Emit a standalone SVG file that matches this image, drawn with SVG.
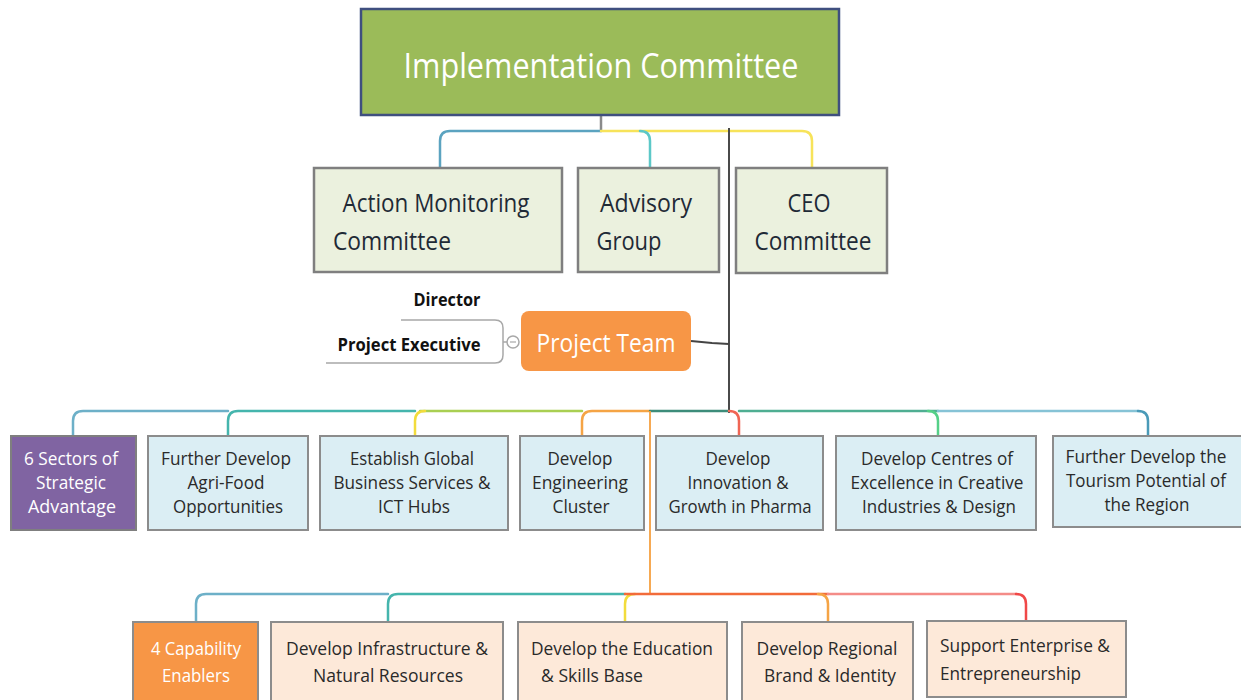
<svg xmlns="http://www.w3.org/2000/svg" width="1241" height="700" viewBox="0 0 1241 700">
  <style>
    text { font-family: "Open Sans", "Liberation Sans", sans-serif; text-anchor: middle; }
    .c { fill: none; stroke-width: 2.5; stroke-linecap: round; }
    .l1 { font-size: 26px; fill: #1f2a36; }
    .l2 { font-size: 17.5px; fill: #2a2a2a; }
    .l3 { font-size: 19px; fill: #2a2a2a; }
    .w { fill: #ffffff; }
    .box2 { fill: #ebf1de; stroke: #7f7f7f; stroke-width: 2.5; }
    .box3 { fill: #dbeef4; stroke: #8c8c8c; stroke-width: 2; }
    .box4 { fill: #fde9d9; stroke: #8c8c8c; stroke-width: 2; }
  </style>

  <!-- connectors -->
  <g id="connectors">
    <path class="c" d="M601,115 V131" stroke="#8a8a8a" stroke-width="2"/>
    <path class="c" d="M601,131 H450 Q440,131 440,141 V168" stroke="#5ba3c0"/>
    <path class="c" d="M601,131 H802 Q812,131 812,141 V168" stroke="#f7e35a"/>
    <path class="c" d="M640,131 Q650,131 650,141 V168" stroke="#5cc8c8"/>
    <path d="M729,128 V413" fill="none" stroke="#4a4a4a" stroke-width="2"/>
    <path d="M691,341 L712,343 L729,344" fill="none" stroke="#444444" stroke-width="2"/>

    <path d="M401,320 H495 Q503,320 503,328 V355 Q503,363 495,363 H326" fill="none" stroke="#a8a8a8" stroke-width="1.5"/>
    <path d="M503,342 H507" stroke="#a8a8a8" stroke-width="1.5"/>

    <!-- sector bus -->
    <path class="c" d="M228,411 H83 Q73,411 73,421 V436" stroke="#6db0c8"/>
    <path class="c" d="M415,411 H238 Q228,411 228,421 V436" stroke="#45b5ad"/>
    <path class="c" d="M582,411 H420" stroke="#a9cf52"/>
    <path class="c" d="M425,411 Q415,411 415,421 V436" stroke="#f2dc3c"/>
    <path class="c" d="M650,411 H592 Q582,411 582,421 V436" stroke="#f5a445"/>
    <path class="c" d="M729,411 H650" stroke="#3d8c7a"/>
    <path class="c" d="M729,411 Q739,411 739,421 V436" stroke="#f06554"/>
    <path class="c" d="M938,411 H739" stroke="#4fae92"/>
    <path class="c" d="M928,411 Q938,411 938,421 V436" stroke="#55d088"/>
    <path class="c" d="M1138,411 H938" stroke="#86c3d6"/>
    <path class="c" d="M1138,411 Q1148,411 1148,421 V436" stroke="#4a9ab8"/>

    <path d="M650,411 V594" fill="none" stroke="#f5a040" stroke-width="1.8"/>

    <!-- enabler bus -->
    <path class="c" d="M388,594 H206 Q196,594 196,604 V622" stroke="#6db0c8"/>
    <path class="c" d="M625,594 H398 Q388,594 388,604 V622" stroke="#45b5ad"/>
    <path class="c" d="M635,594 Q625,594 625,604 V622" stroke="#f2dc3c"/>
    <path class="c" d="M828,594 H625" stroke="#f26b3a"/>
    <path class="c" d="M818,594 Q828,594 828,604 V622" stroke="#f5a445"/>
    <path class="c" d="M1016,594 H828" stroke="#f48c88"/>
    <path class="c" d="M1016,594 Q1026,594 1026,604 V622" stroke="#f04848"/>
  </g>

  <g id="implementation-committee">
    <rect x="361" y="9" width="478" height="106" fill="#9bbb59" stroke="#3f4f7f" stroke-width="2.5"/>
    <text x="601" y="78" font-size="34" class="w" textLength="395" lengthAdjust="spacingAndGlyphs">Implementation Committee</text>
  </g>

  <g id="action-monitoring-committee">
    <rect class="box2" x="314" y="168" width="248" height="104"/>
    <text class="l1" x="436" y="212" textLength="187" lengthAdjust="spacingAndGlyphs">Action Monitoring</text>
    <text class="l1" x="392" y="250" textLength="118" lengthAdjust="spacingAndGlyphs">Committee</text>
  </g>

  <g id="advisory-group">
    <rect class="box2" x="578" y="168" width="141" height="104"/>
    <text class="l1" x="646" y="212" textLength="92" lengthAdjust="spacingAndGlyphs">Advisory</text>
    <text class="l1" x="629" y="250" textLength="65" lengthAdjust="spacingAndGlyphs">Group</text>
  </g>

  <g id="ceo-committee">
    <rect class="box2" x="736" y="168" width="151" height="105"/>
    <text class="l1" x="809" y="212" textLength="43" lengthAdjust="spacingAndGlyphs">CEO</text>
    <text class="l1" x="813" y="250" textLength="117" lengthAdjust="spacingAndGlyphs">Committee</text>
  </g>

  <g id="project-team">
    <rect x="521" y="311" width="170" height="60" rx="8" fill="#f79646"/>
    <text x="606" y="352" font-size="26" class="w" textLength="139" lengthAdjust="spacingAndGlyphs">Project Team</text>
  </g>

  <g id="collapse-toggle">
    <circle cx="513" cy="342" r="6" fill="#ffffff" stroke="#a8a8a8" stroke-width="1.5"/>
    <path d="M510,342 H516" stroke="#a8a8a8" stroke-width="1.2"/>
  </g>

  <g id="director">
    <text x="447" y="306" font-size="17" font-weight="bold" fill="#111111" textLength="67" lengthAdjust="spacingAndGlyphs">Director</text>
  </g>

  <g id="project-executive">
    <text x="409" y="351" font-size="17" font-weight="bold" fill="#111111" textLength="143" lengthAdjust="spacingAndGlyphs">Project Executive</text>
  </g>

  <g id="sectors-of-strategic-advantage">
    <rect x="11" y="436" width="125" height="94" fill="#8064a2" stroke="#7f7f7f" stroke-width="2"/>
    <text class="l2 w" x="71" y="465" textLength="94" lengthAdjust="spacingAndGlyphs">6 Sectors of</text>
    <text class="l2 w" x="71" y="489" textLength="70" lengthAdjust="spacingAndGlyphs">Strategic</text>
    <text class="l2 w" x="72" y="513" textLength="88" lengthAdjust="spacingAndGlyphs">Advantage</text>
  </g>

  <g id="agri-food">
    <rect class="box3" x="148" y="436" width="160" height="94"/>
    <text class="l2" x="226" y="465" textLength="130" lengthAdjust="spacingAndGlyphs">Further Develop</text>
    <text class="l2" x="226" y="489" textLength="77" lengthAdjust="spacingAndGlyphs">Agri-Food</text>
    <text class="l2" x="228" y="513" textLength="110" lengthAdjust="spacingAndGlyphs">Opportunities</text>
  </g>

  <g id="global-business-services">
    <rect class="box3" x="320" y="436" width="188" height="94"/>
    <text class="l2" x="412" y="465" textLength="124" lengthAdjust="spacingAndGlyphs">Establish Global</text>
    <text class="l2" x="412" y="489" textLength="157" lengthAdjust="spacingAndGlyphs">Business Services &amp;</text>
    <text class="l2" x="414" y="513" textLength="72" lengthAdjust="spacingAndGlyphs">ICT Hubs</text>
  </g>

  <g id="engineering-cluster">
    <rect class="box3" x="520" y="436" width="124" height="94"/>
    <text class="l2" x="580" y="465" textLength="65" lengthAdjust="spacingAndGlyphs">Develop</text>
    <text class="l2" x="580" y="489" textLength="96" lengthAdjust="spacingAndGlyphs">Engineering</text>
    <text class="l2" x="581" y="513" textLength="57" lengthAdjust="spacingAndGlyphs">Cluster</text>
  </g>

  <g id="pharma">
    <rect class="box3" x="656" y="436" width="167" height="94"/>
    <text class="l2" x="738" y="465" textLength="65" lengthAdjust="spacingAndGlyphs">Develop</text>
    <text class="l2" x="738" y="489" textLength="101" lengthAdjust="spacingAndGlyphs">Innovation &amp;</text>
    <text class="l2" x="740" y="513" textLength="143" lengthAdjust="spacingAndGlyphs">Growth in Pharma</text>
  </g>

  <g id="creative-industries">
    <rect class="box3" x="836" y="436" width="200" height="94"/>
    <text class="l2" x="937" y="465" textLength="152" lengthAdjust="spacingAndGlyphs">Develop Centres of</text>
    <text class="l2" x="937" y="489" textLength="173" lengthAdjust="spacingAndGlyphs">Excellence in Creative</text>
    <text class="l2" x="939" y="513" textLength="154" lengthAdjust="spacingAndGlyphs">Industries &amp; Design</text>
  </g>

  <g id="tourism">
    <rect class="box3" x="1053" y="436" width="192" height="91"/>
    <text class="l2" x="1146" y="463" textLength="161" lengthAdjust="spacingAndGlyphs">Further Develop the</text>
    <text class="l2" x="1146" y="487" textLength="160" lengthAdjust="spacingAndGlyphs">Tourism Potential of</text>
    <text class="l2" x="1147" y="511" textLength="85" lengthAdjust="spacingAndGlyphs">the Region</text>
  </g>

  <g id="capability-enablers">
    <rect x="133" y="622" width="125" height="84" fill="#f79646" stroke="#8c8c8c" stroke-width="2"/>
    <text class="l3 w" x="196" y="655" textLength="90" lengthAdjust="spacingAndGlyphs">4 Capability</text>
    <text class="l3 w" x="196" y="682" textLength="68" lengthAdjust="spacingAndGlyphs">Enablers</text>
  </g>

  <g id="infrastructure">
    <rect class="box4" x="271" y="622" width="232" height="84"/>
    <text class="l3" x="387" y="655" textLength="202" lengthAdjust="spacingAndGlyphs">Develop Infrastructure &amp;</text>
    <text class="l3" x="388" y="682" textLength="150" lengthAdjust="spacingAndGlyphs">Natural Resources</text>
  </g>

  <g id="education-skills">
    <rect class="box4" x="518" y="622" width="209" height="84"/>
    <text class="l3" x="622" y="655" textLength="182" lengthAdjust="spacingAndGlyphs">Develop the Education</text>
    <text class="l3" x="592" y="682" textLength="102" lengthAdjust="spacingAndGlyphs">&amp; Skills Base</text>
  </g>

  <g id="regional-brand">
    <rect class="box4" x="742" y="622" width="171" height="84"/>
    <text class="l3" x="827" y="655" textLength="141" lengthAdjust="spacingAndGlyphs">Develop Regional</text>
    <text class="l3" x="830" y="682" textLength="132" lengthAdjust="spacingAndGlyphs">Brand &amp; Identity</text>
  </g>

  <g id="enterprise">
    <rect class="box4" x="927" y="621" width="199" height="76"/>
    <text class="l3" x="1025" y="652" textLength="170" lengthAdjust="spacingAndGlyphs">Support Enterprise &amp;</text>
    <text class="l3" x="1010.5" y="680" textLength="141" lengthAdjust="spacingAndGlyphs">Entrepreneurship</text>
  </g>
</svg>
